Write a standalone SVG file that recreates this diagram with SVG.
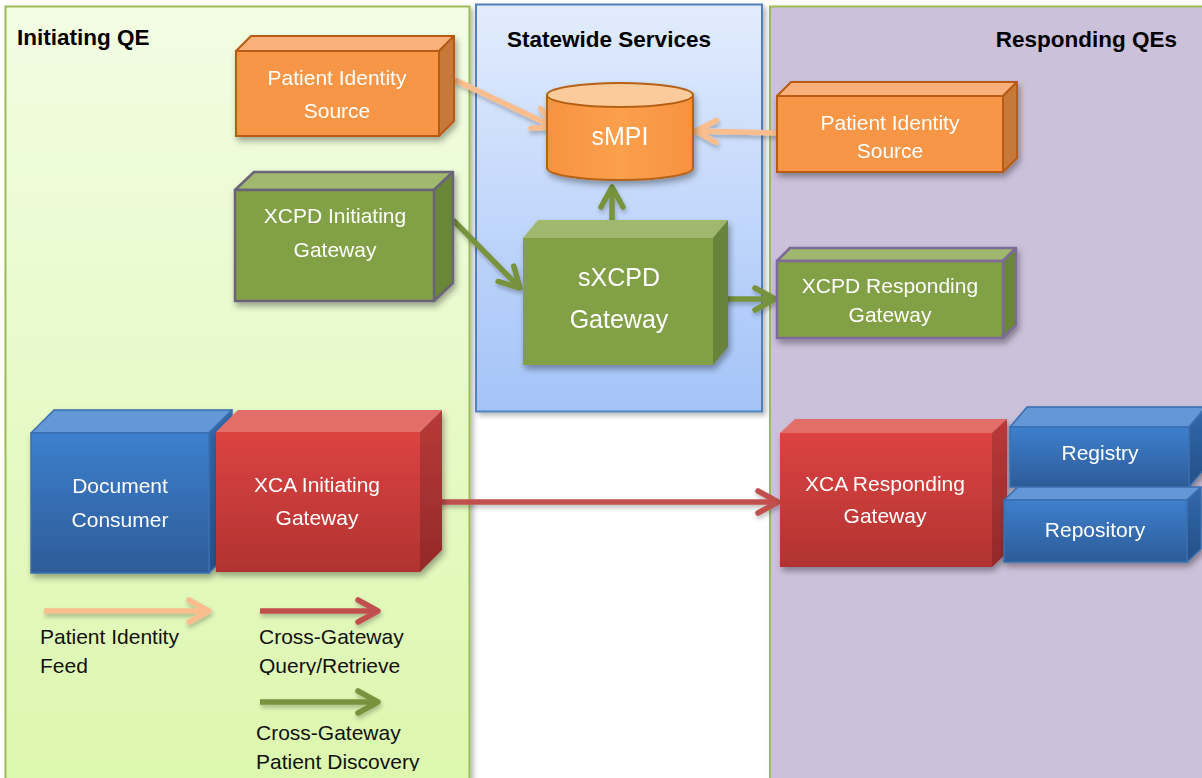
<svg xmlns="http://www.w3.org/2000/svg" width="1202" height="778" viewBox="0 0 1202 778">
  <style>
    .hdr { font-family: "Liberation Sans", Arial, sans-serif; font-weight: bold; font-size: 22.5px; fill: #000; }
    .lbl { font-family: "Liberation Sans", Arial, sans-serif; font-size: 21px; fill: #fff; text-anchor: middle; }
    .big { font-size: 25px; }
    .leg { font-family: "Liberation Sans", Arial, sans-serif; font-size: 21px; fill: #111; }
    .wire { fill: none; stroke-width: 5.5; }
    .feed { stroke: #f9bd8e; }
    .query { stroke: #c0504d; }
    .disc { stroke: #77933c; }
  </style>
  <defs>
    <linearGradient id="gInit" x1="0" y1="0" x2="0" y2="1">
      <stop offset="0" stop-color="#f2fde3"/>
      <stop offset="1" stop-color="#dcf7ad"/>
    </linearGradient>
    <linearGradient id="gState" x1="0" y1="0" x2="0" y2="1">
      <stop offset="0" stop-color="#e2ecfd"/>
      <stop offset="1" stop-color="#a3c3f8"/>
    </linearGradient>
    <linearGradient id="gBlue" x1="0" y1="0" x2="0" y2="1">
      <stop offset="0" stop-color="#3d7fcd"/>
      <stop offset="1" stop-color="#2d5c98"/>
    </linearGradient>
    <linearGradient id="gRed" x1="0" y1="0" x2="0" y2="1">
      <stop offset="0" stop-color="#dc4341"/>
      <stop offset="1" stop-color="#b13331"/>
    </linearGradient>
    <linearGradient id="gRedSide" x1="0" y1="0" x2="0" y2="1">
      <stop offset="0" stop-color="#b83a38"/>
      <stop offset="1" stop-color="#93292a"/>
    </linearGradient>
    <linearGradient id="gBlueSide" x1="0" y1="0" x2="0" y2="1">
      <stop offset="0" stop-color="#3268ad"/>
      <stop offset="1" stop-color="#254f86"/>
    </linearGradient>
    <linearGradient id="gCyl" x1="0" y1="0" x2="1" y2="0">
      <stop offset="0" stop-color="#f7923f"/>
      <stop offset="0.5" stop-color="#fba04e"/>
      <stop offset="1" stop-color="#f7923f"/>
    </linearGradient>
    <filter id="shadow" x="-20%" y="-20%" width="140%" height="150%">
      <feDropShadow dx="2" dy="4" stdDeviation="3" flood-color="#000" flood-opacity="0.35"/>
    </filter>
    <filter id="panelShadow" x="-5%" y="-5%" width="110%" height="110%">
      <feDropShadow dx="3" dy="3" stdDeviation="2.5" flood-color="#000" flood-opacity="0.28"/>
    </filter>
    <filter id="wireShadow" x="-10%" y="-50%" width="120%" height="200%">
      <feDropShadow dx="1" dy="3" stdDeviation="2" flood-color="#000" flood-opacity="0.25"/>
    </filter>
    <marker id="tipFeed" viewBox="-24 -14 28 28" refX="0" refY="0" markerWidth="28" markerHeight="28" markerUnits="userSpaceOnUse" orient="auto">
      <path d="M-20,-11 L0,0 L-20,11" fill="none" stroke="#f9bd8e" stroke-width="5.5" stroke-linecap="round" stroke-linejoin="round"/>
    </marker>
    <marker id="tipQuery" viewBox="-24 -14 28 28" refX="0" refY="0" markerWidth="28" markerHeight="28" markerUnits="userSpaceOnUse" orient="auto">
      <path d="M-20,-11 L0,0 L-20,11" fill="none" stroke="#c0504d" stroke-width="5.5" stroke-linecap="round" stroke-linejoin="round"/>
    </marker>
    <marker id="tipDisc" viewBox="-24 -14 28 28" refX="0" refY="0" markerWidth="28" markerHeight="28" markerUnits="userSpaceOnUse" orient="auto">
      <path d="M-20,-11 L0,0 L-20,11" fill="none" stroke="#77933c" stroke-width="5.5" stroke-linecap="round" stroke-linejoin="round"/>
    </marker>
    <!-- legend text boxes are cut off just below the last line -->
    <clipPath id="clipQuery"><rect x="240" y="615" width="220" height="60"/></clipPath>
    <clipPath id="clipDisc"><rect x="240" y="710" width="220" height="61"/></clipPath>
  </defs>

  <rect width="1202" height="778" fill="#fff"/>

  <!-- swimlane panels -->
  <g id="lane-initiating">
    <rect x="5.5" y="6.5" width="464" height="790" fill="url(#gInit)" stroke="#9bbb59" stroke-width="2" filter="url(#panelShadow)"/>
    <text class="hdr" x="17" y="45">Initiating QE</text>
  </g>
  <g id="lane-statewide">
    <rect x="476" y="4.5" width="286" height="407" fill="url(#gState)" stroke="#4f81bd" stroke-width="2" filter="url(#panelShadow)"/>
    <text class="hdr" x="609" y="47" text-anchor="middle">Statewide Services</text>
  </g>
  <g id="lane-responding">
    <rect x="770" y="6.5" width="460" height="790" fill="#ccc1da" stroke="#9bbb59" stroke-width="2" filter="url(#panelShadow)"/>
    <text class="hdr" x="1177" y="47" text-anchor="end">Responding QEs</text>
  </g>

  <!-- connectors -->
  <g id="connectors" filter="url(#wireShadow)">
    <path class="wire feed" d="M455,80 L554,127" marker-end="url(#tipFeed)"/>
    <path class="wire feed" d="M777,133 L696,131" marker-end="url(#tipFeed)"/>
    <path class="wire disc" d="M612,232 L612,187" marker-end="url(#tipDisc)"/>
    <path class="wire disc" d="M453,220 L520,288" marker-end="url(#tipDisc)"/>
    <path class="wire disc" d="M713,299 L775,299" marker-end="url(#tipDisc)"/>
    <path class="wire query" d="M420,502 L778,502" marker-end="url(#tipQuery)"/>
  </g>

  <!-- Patient Identity Source (initiating) -->
  <g id="pis-initiating" filter="url(#shadow)">
    <path d="M236,51 L251,36 L454,36 L439,51 Z" fill="#fab07a" stroke="#b65b12" stroke-width="2" stroke-linejoin="round"/>
    <path d="M439,51 L454,36 L454,121 L439,136 Z" fill="#c77a39" stroke="#b65b12" stroke-width="2" stroke-linejoin="round"/>
    <rect x="236" y="51" width="203" height="85" fill="#f79646" stroke="#b65b12" stroke-width="2"/>
    <text class="lbl" x="337" y="85">Patient Identity</text>
    <text class="lbl" x="337" y="118">Source</text>
  </g>

  <!-- XCPD Initiating Gateway -->
  <g id="xcpd-initiating" filter="url(#shadow)">
    <path d="M235,190 L254,172 L453,172 L434,190 Z" fill="#a0b86e" stroke="#6b6479" stroke-width="2.5" stroke-linejoin="round"/>
    <path d="M434,190 L453,172 L453,283 L434,301 Z" fill="#6a8739" stroke="#6b6479" stroke-width="2.5" stroke-linejoin="round"/>
    <rect x="235" y="190" width="199" height="111" fill="#82a045" stroke="#6b6479" stroke-width="2.5"/>
    <text class="lbl" x="335" y="223">XCPD Initiating</text>
    <text class="lbl" x="335" y="257">Gateway</text>
  </g>

  <!-- sMPI -->
  <g id="smpi" filter="url(#shadow)">
    <path d="M547,95 L547,168 A73,12 0 0 0 693,168 L693,95 Z" fill="url(#gCyl)" stroke="#b66215" stroke-width="2"/>
    <ellipse cx="620" cy="95" rx="73" ry="12" fill="#fccb9c" stroke="#b66215" stroke-width="2"/>
    <text class="lbl big" x="620" y="145">sMPI</text>
  </g>

  <!-- sXCPD Gateway -->
  <g id="sxcpd-gateway" filter="url(#shadow)">
    <path d="M523,238 L538,220 L728,220 L713,238 Z" fill="#a0b86e"/>
    <path d="M713,238 L728,220 L728,347 L713,365 Z" fill="#67833a"/>
    <rect x="523" y="238" width="190" height="127" fill="#82a045"/>
    <text class="lbl big" x="619" y="286">sXCPD</text>
    <text class="lbl big" x="619" y="328">Gateway</text>
  </g>

  <!-- Patient Identity Source (responding) -->
  <g id="pis-responding" filter="url(#shadow)">
    <path d="M777,96 L791,82 L1017,82 L1003,96 Z" fill="#fab07a" stroke="#b65b12" stroke-width="2" stroke-linejoin="round"/>
    <path d="M1003,96 L1017,82 L1017,158 L1003,172 Z" fill="#c77a39" stroke="#b65b12" stroke-width="2" stroke-linejoin="round"/>
    <rect x="777" y="96" width="226" height="76" fill="#f79646" stroke="#b65b12" stroke-width="2"/>
    <text class="lbl" x="890" y="130">Patient Identity</text>
    <text class="lbl" x="890" y="158">Source</text>
  </g>

  <!-- XCPD Responding Gateway -->
  <g id="xcpd-responding" filter="url(#shadow)">
    <path d="M777,261 L790,248 L1016,248 L1003,261 Z" fill="#a0b86e" stroke="#7d6a98" stroke-width="2.5" stroke-linejoin="round"/>
    <path d="M1003,261 L1016,248 L1016,325 L1003,338 Z" fill="#6a8739" stroke="#7d6a98" stroke-width="2.5" stroke-linejoin="round"/>
    <rect x="777" y="261" width="226" height="77" fill="#82a045" stroke="#7d6a98" stroke-width="2.5"/>
    <text class="lbl" x="890" y="293">XCPD Responding</text>
    <text class="lbl" x="890" y="322">Gateway</text>
  </g>

  <!-- Document Consumer -->
  <g id="document-consumer" filter="url(#shadow)">
    <path d="M31,433 L54,410 L232,410 L209,433 Z" fill="#6397d5" stroke="#3a6fb0" stroke-width="1.5" stroke-linejoin="round"/>
    <path d="M209,433 L232,410 L232,550 L209,573 Z" fill="url(#gBlueSide)" stroke="#3a6fb0" stroke-width="1.5" stroke-linejoin="round"/>
    <rect x="31" y="433" width="178" height="140" fill="url(#gBlue)" stroke="#3a6fb0" stroke-width="1.5"/>
    <text class="lbl" x="120" y="493">Document</text>
    <text class="lbl" x="120" y="527">Consumer</text>
  </g>

  <!-- XCA Initiating Gateway -->
  <g id="xca-initiating" filter="url(#shadow)">
    <path d="M216,432 L238,410 L442,410 L420,432 Z" fill="#e36d67"/>
    <path d="M420,432 L442,410 L442,550 L420,572 Z" fill="url(#gRedSide)"/>
    <rect x="216" y="432" width="204" height="140" fill="url(#gRed)"/>
    <text class="lbl" x="317" y="492">XCA Initiating</text>
    <text class="lbl" x="317" y="525">Gateway</text>
  </g>

  <!-- XCA Responding Gateway -->
  <g id="xca-responding" filter="url(#shadow)">
    <path d="M780,433 L795,419 L1007,419 L992,433 Z" fill="#e36d67"/>
    <path d="M992,433 L1007,419 L1007,553 L992,567 Z" fill="url(#gRedSide)"/>
    <rect x="780" y="433" width="212" height="134" fill="url(#gRed)"/>
    <text class="lbl" x="885" y="491">XCA Responding</text>
    <text class="lbl" x="885" y="523">Gateway</text>
  </g>

  <!-- Registry -->
  <g id="registry" filter="url(#shadow)">
    <path d="M1010,427 L1027,407 L1206,407 L1189,427 Z" fill="#6397d5" stroke="#3a6fb0" stroke-width="1.5" stroke-linejoin="round"/>
    <path d="M1189,427 L1206,407 L1206,467 L1189,487 Z" fill="url(#gBlueSide)" stroke="#3a6fb0" stroke-width="1.5" stroke-linejoin="round"/>
    <rect x="1010" y="427" width="179" height="60" fill="url(#gBlue)" stroke="#3a6fb0" stroke-width="1.5"/>
    <text class="lbl" x="1100" y="460">Registry</text>
  </g>

  <!-- Repository -->
  <g id="repository" filter="url(#shadow)">
    <path d="M1004,500 L1018,487 L1201,487 L1187,500 Z" fill="#6397d5" stroke="#3a6fb0" stroke-width="1.5" stroke-linejoin="round"/>
    <path d="M1187,500 L1201,487 L1201,549 L1187,562 Z" fill="url(#gBlueSide)" stroke="#3a6fb0" stroke-width="1.5" stroke-linejoin="round"/>
    <rect x="1004" y="500" width="183" height="62" fill="url(#gBlue)" stroke="#3a6fb0" stroke-width="1.5"/>
    <text class="lbl" x="1095" y="537">Repository</text>
  </g>

  <!-- legend -->
  <g id="legend">
    <g filter="url(#wireShadow)">
      <path class="wire feed" d="M44,611 L209,611" marker-end="url(#tipFeed)"/>
      <path class="wire query" d="M260,611 L378,611" marker-end="url(#tipQuery)"/>
      <path class="wire disc" d="M260,702 L378,702" marker-end="url(#tipDisc)"/>
    </g>
    <text class="leg" x="40" y="644">Patient Identity</text>
    <text class="leg" x="40" y="673">Feed</text>
    <g clip-path="url(#clipQuery)">
      <text class="leg" x="259" y="644">Cross-Gateway</text>
      <text class="leg" x="259" y="673">Query/Retrieve</text>
    </g>
    <g clip-path="url(#clipDisc)">
      <text class="leg" x="256" y="740">Cross-Gateway</text>
      <text class="leg" x="256" y="769">Patient Discovery</text>
    </g>
  </g>
</svg>
